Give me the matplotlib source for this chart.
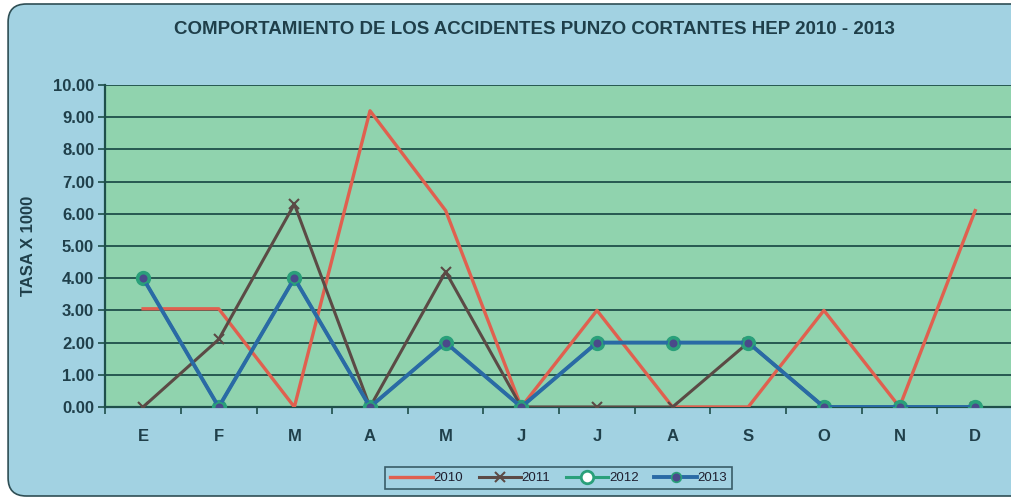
import numpy as np
import matplotlib.pyplot as plt
from matplotlib.patches import FancyBboxPatch

plt.rcParams['font.family'] = ['Liberation Sans', 'DejaVu Sans']

months = ['E', 'F', 'M', 'A', 'M', 'J', 'J', 'A', 'S', 'O', 'N', 'D']
y2010 = [3.05, 3.05, 0.0, 9.2, 6.1, 0.0, 3.0, 0.0, 0.0, 3.0, 0.0, 6.1]
y2011 = [0.0, 2.1, 6.3, 0.0, 4.2, 0.0, 0.0, 0.0, 2.0, 0.0, 0.0, 0.0]
y2012 = [4.0, 0.0, 4.0, 0.0, 2.0, 0.0, 2.0, 2.0, 2.0, 0.0, 0.0, 0.0]
y2013 = [4.0, 0.0, 4.0, 0.0, 2.0, 0.0, 2.0, 2.0, 2.0, 0.0, 0.0, 0.0]

bg_blue = '#a2d2e2'
plot_green = '#90d3ae'
grid_col = '#1f4f4a'
txt_col = '#1f3f4a'

fig = plt.figure(figsize=(10.12, 5.0), dpi=100)
fig.patch.set_facecolor('white')

# rounded outer frame, kept behind the axes
frame = FancyBboxPatch((0.008, 0.008), 1.1, 0.984,
                       boxstyle='round,pad=0,rounding_size=0.018',
                       transform=fig.transFigure, facecolor=bg_blue,
                       edgecolor='#2f4f55', linewidth=1.2, mutation_aspect=2.0,
                       zorder=-10)
fig.add_artist(frame)

ax = fig.add_axes([0.104, 0.186, 0.897, 0.644])
ax.set_facecolor(plot_green)
x = np.arange(len(months))

ax.plot(x, y2010, color='#e0604f', lw=2.4, label='2010', zorder=3)
ax.plot(x, y2011, color='#5b4a45', lw=2.2, marker='x', ms=7, mew=1.5,
        label='2011', zorder=4)
ax.plot(x, y2012, color='#2aa07a', lw=2.2, marker='o', ms=9,
        mfc='white', mec='#2aa07a', mew=2, label='2012', zorder=5)
ax.plot(x, y2013, color='#2a6aa5', lw=2.8, marker='o', ms=7,
        mfc='#4a4a8a', mec='#2aa07a', mew=1.2, label='2013', zorder=6)

ax.set_xlim(-0.5, 11.5)
ax.set_ylim(0, 10)
ax.set_yticks(np.arange(0, 11, 1))
ax.set_yticklabels([f'{v:.2f}' for v in range(11)], fontsize=12,
                   fontweight='bold', color=txt_col)
ax.set_xticks(x)
ax.set_xticklabels(months, fontsize=12, fontweight='bold', color=txt_col)
ax.set_xticks(np.arange(-0.5, 12, 1), minor=True)
ax.tick_params(axis='x', which='major', length=0, pad=16)
ax.tick_params(axis='x', which='minor', length=5, direction='out',
               color=grid_col, width=1.2)
ax.tick_params(axis='y', length=5, color=grid_col, width=1.2, pad=3)
ax.yaxis.grid(True, color=grid_col, lw=1.3)
ax.set_axisbelow(True)
for side in ['top', 'right']:
    ax.spines[side].set_visible(False)
for side in ['left', 'bottom']:
    ax.spines[side].set_color(grid_col)
    ax.spines[side].set_linewidth(1.6)

ax.set_ylabel('TASA X 1000', fontsize=12, fontweight='bold',
              color=txt_col, labelpad=12)

fig.text(0.528, 0.94, 'COMPORTAMIENTO DE LOS ACCIDENTES PUNZO CORTANTES HEP 2010 - 2013',
         ha='center', va='center', fontsize=13.5, fontweight='bold', color=txt_col)

leg = fig.legend(loc='center', bbox_to_anchor=(0.552, 0.044), ncol=4,
                 frameon=True, fontsize=9.5, handlelength=3.2,
                 columnspacing=1.2, handletextpad=0.05,
                 borderpad=0.4)
leg.get_frame().set_facecolor(bg_blue)
leg.get_frame().set_edgecolor('#1f3f4a')
leg.get_frame().set_linewidth(1.2)
leg.get_frame().set_boxstyle('square', pad=0)
for t in leg.get_texts():
    t.set_color('#1f1f2f')

fig.savefig('out.png', dpi=100, facecolor=fig.get_facecolor())
